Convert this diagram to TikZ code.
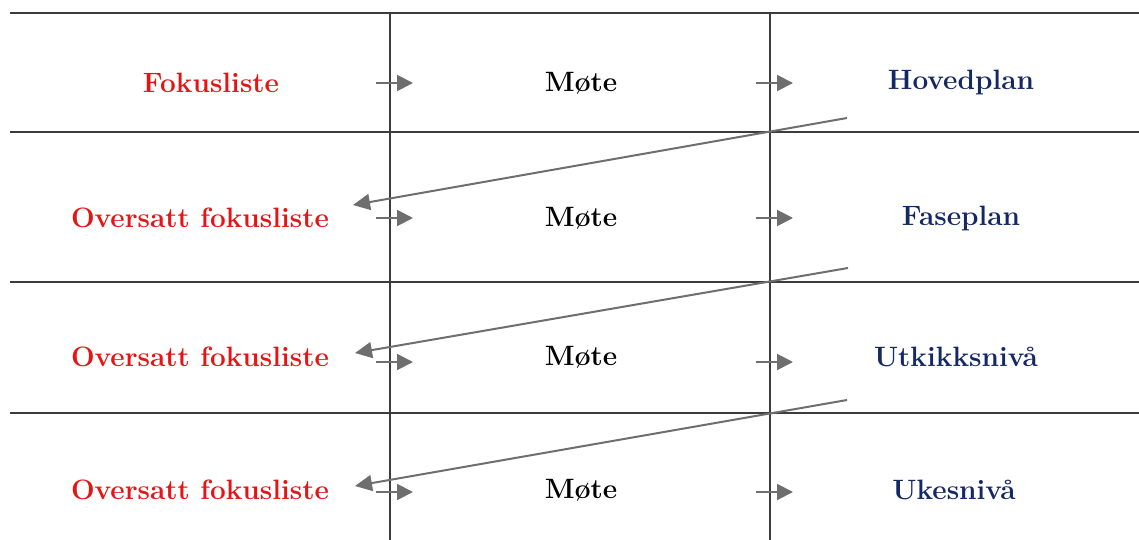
\documentclass[tikz,border=0pt]{standalone}
\usepackage{xcolor}
\usepackage{tikz}
\usetikzlibrary{arrows.meta, positioning, calc}
\definecolor{fkred}{RGB}{230,20,20}
\definecolor{plnavy}{RGB}{20,40,100}
\definecolor{arrgray}{RGB}{110,110,110}
\definecolor{rulegray}{RGB}{60,60,60}

\begin{document}
\begin{tikzpicture}[x=1pt, y=-1pt,
  lbl/.style={font=\fontsize{28}{32}\selectfont\bfseries, inner sep=0pt},
  fokus/.style={lbl, text=fkred},
  mote/.style={lbl, text=black},
  plan/.style={lbl, text=plnavy},
  rule/.style={draw=rulegray, line width=1.3pt},
  arr/.style={-{Triangle[length=16pt, width=16pt]}, draw=arrgray, line width=2pt},
  back/.style={-{Triangle[length=17pt, width=16pt]}, draw=arrgray, line width=2pt}
]
\useasboundingbox (0,0) rectangle (1139,540);
% grid
\draw[rule] (10,13) -- (1139,13);
\draw[rule] (10,132) -- (1139,132);
\draw[rule] (10,282) -- (1139,282);
\draw[rule] (10,413) -- (1139,413);
\draw[rule] (390,13) -- (390,540);
\draw[rule] (770,13) -- (770,540);
% row 1
\node[fokus] (f1) at (211,83) {Fokusliste};
\node[mote] (m1) at (581,83) {Møte};
\node[plan] (p1) at (961,83) {Hovedplan};
% row 2
\node[fokus] (f2) at (200,218) {Oversatt fokusliste};
\node[mote] (m2) at (581,218) {Møte};
\node[plan] (p2) at (961,218) {Faseplan};
% row 3
\node[fokus] (f3) at (200,357) {Oversatt fokusliste};
\node[mote] (m3) at (581,357) {Møte};
\node[plan] (p3) at (956,357) {Utkikksnivå};
% row 4
\node[fokus] (f4) at (200,490) {Oversatt fokusliste};
\node[mote] (m4) at (581,490) {Møte};
\node[plan] (p4) at (954,490) {Ukesnivå};
% arrow ends
\foreach \r/\y in {1/83, 2/218, 3/362, 4/492} {
  \coordinate (a\r) at (376,\y);
  \coordinate (b\r) at (413,\y);
  \coordinate (c\r) at (756,\y);
  \coordinate (d\r) at (793,\y);
  \draw[arr] (a\r) -- (b\r);
  \draw[arr] (c\r) -- (d\r);
}
\coordinate (s2) at (847,118);
\coordinate (t2) at (353,205);
\coordinate (s3) at (848,268);
\coordinate (t3) at (355,353);
\coordinate (s4) at (847,400);
\coordinate (t4) at (355,486);
\draw[back] (s2) -- (t2);
\draw[back] (s3) -- (t3);
\draw[back] (s4) -- (t4);
\end{tikzpicture}
\end{document}
